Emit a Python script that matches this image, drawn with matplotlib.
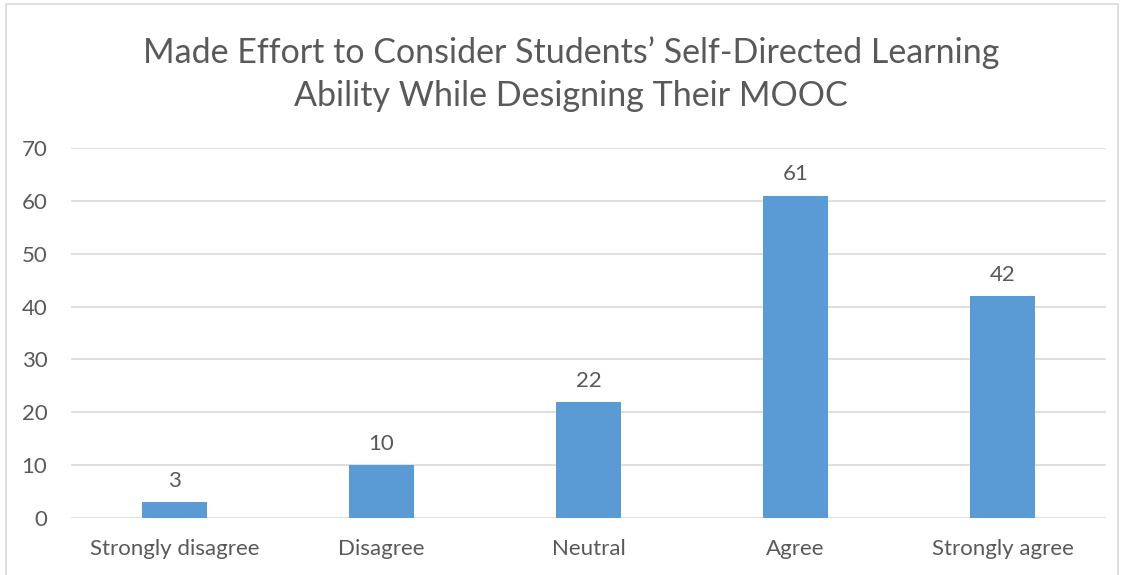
import matplotlib.pyplot as plt
import numpy as np

categories = ["Strongly disagree", "Disagree", "Neutral", "Agree", "Strongly agree"]
counts = [3, 10, 22, 61, 42]
yticks = [0, 10, 20, 30, 40, 50, 60, 70]

plt.rcParams['font.family'] = ['Lato', 'DejaVu Sans']
text_color = '#595959'

fig = plt.figure(figsize=(11.21, 5.75), dpi=100)
ax = fig.add_axes([71 / 1121, 1 - 518 / 575, 1035 / 1121, 370 / 575])

x = np.arange(len(categories))
bars = ax.bar(x, counts, width=0.314, color='#5B9BD5', zorder=3)

for rect, val in zip(bars, counts):
    ax.annotate('{}'.format(val),
                xy=(rect.get_x() + rect.get_width() / 2, rect.get_height()),
                xytext=(0, 8), textcoords="offset points",
                ha='center', va='bottom', fontsize=16, color=text_color)

ax.set_xlim(-0.5, len(categories) - 0.5)
ax.set_ylim(0, 70)
ax.set_yticks(yticks)
ax.set_xticks(x)
ax.set_xticklabels(categories)
ax.tick_params(axis='both', length=0, labelsize=16, labelcolor=text_color)
ax.tick_params(axis='y', pad=17)
ax.tick_params(axis='x', pad=15)
ax.grid(axis='y', color='#D9D9D9', linewidth=1.2, zorder=0)
for s in ax.spines.values():
    s.set_visible(False)

fig.text(571 / 1121, 1 - 74 / 575,
         "Made Effort to Consider Students\u2019 Self-Directed Learning\nAbility While Designing Their MOOC",
         ha='center', va='center', fontsize=24.5, color=text_color, linespacing=1.42)

# chart border
fig.add_artist(plt.Rectangle((6 / 1121, -0.01), 1112 / 1121, 1 - 4 / 575 + 0.01,
                             transform=fig.transFigure, fill=False,
                             edgecolor='#D9D9D9', linewidth=1.2))

fig.savefig('out.png', dpi=100)
